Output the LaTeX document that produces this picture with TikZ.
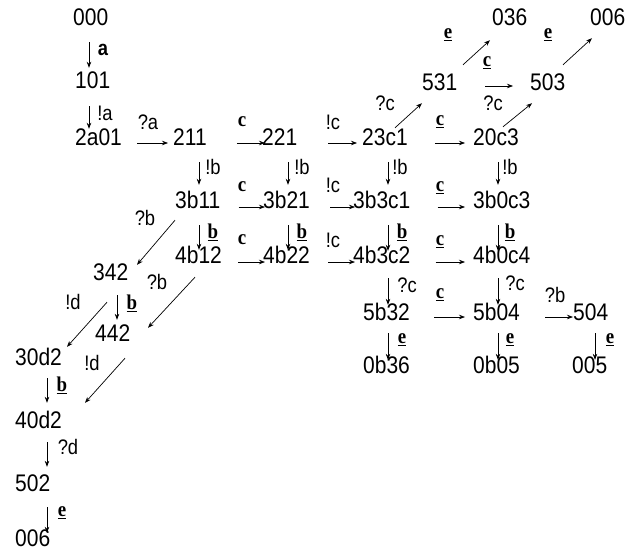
\documentclass[tikz,border=0pt]{standalone}
\usepackage{fontspec}
\setmainfont{Liberation Sans}[FakeStretch=0.875]
\newfontfamily\lblserif{Liberation Serif}[FakeStretch=0.9]
\usetikzlibrary{arrows.meta}

\begin{document}
\begin{tikzpicture}[x=1pt, y=-1pt,
  state/.style={inner sep=0pt, anchor=base west, text height=15pt,
    text depth=0pt, font=\fontsize{24}{26}\selectfont},
  lbl/.style={inner sep=0pt, font=\fontsize{21}{24}\selectfont},
  blbl/.style={inner sep=0pt, font=\fontsize{21}{24}\selectfont\lblserif\bfseries},
  move/.style={-{Stealth[length=6pt,width=4.5pt]}, line width=0.7pt},
]
  \useasboundingbox (0,0) rectangle (626,552);
  % States (left edge / baseline)
  \foreach \n/\x/\y/\t in {s000/73/25/000, s101/75/88/101, s2a01/75/145/2a01,
      s211/173/145/211, s221/262/145/221, s23c1/362/145/23c1, s20c3/473/145/20c3,
      s531/422/90/531, s503/530/90/503, s036/492/25/036, s006a/590/25/006,
      s3b11/175/208/3b11, s3b21/263/208/3b21, s3b3c1/353/208/3b3c1, s3b0c3/473/208/3b0c3,
      s4b12/175/263/4b12, s4b22/263/263/4b22, s4b3c2/353/263/4b3c2, s4b0c4/473/263/4b0c4,
      s5b32/363/320/5b32, s5b04/473/320/5b04, s504/573/320/504,
      s0b36/363/373/0b36, s0b05/473/373/0b05, s005/572/373/005,
      s342/93/280/342, s442/95/341/442, s30d2/15/365/30d2,
      s40d2/15/428/40d2, s502/15/491/502, s006b/15/546/006}{
    \node[state] (\n) at (\x,\y) {\t};
  }
  % Horizontal moves
  \draw[move, shorten <=15pt, shorten >=5pt] ([yshift=2pt]s2a01.base east) -- ([yshift=2pt]s211.base west);
  \draw[move, shorten <=30pt, shorten >=-3pt] ([yshift=2pt]s211.base east) -- ([yshift=2pt]s221.base west);
  \draw[move, shorten <=31pt, shorten >=5pt] ([yshift=2pt]s221.base east) -- ([yshift=2pt]s23c1.base west);
  \draw[move, shorten <=27pt, shorten >=8pt] ([yshift=2pt]s23c1.base east) -- ([yshift=2pt]s20c3.base west);
  \draw[move, shorten <=18pt, shorten >=-2pt] ([yshift=1pt]s3b11.base east) -- ([yshift=1pt]s3b21.base west);
  \draw[move, shorten <=20pt, shorten >=-2pt] ([yshift=1pt]s3b21.base east) -- ([yshift=1pt]s3b3c1.base west);
  \draw[move, shorten <=27pt, shorten >=8pt] ([yshift=1pt]s3b3c1.base east) -- ([yshift=1pt]s3b0c3.base west);
  \draw[move, shorten <=16pt, shorten >=-2pt] ([yshift=1pt]s4b12.base east) -- ([yshift=1pt]s4b22.base west);
  \draw[move, shorten <=18pt, shorten >=-2pt] ([yshift=1pt]s4b22.base east) -- ([yshift=1pt]s4b3c2.base west);
  \draw[move, shorten <=25pt, shorten >=8pt] ([yshift=1pt]s4b3c2.base east) -- ([yshift=1pt]s4b0c4.base west);
  \draw[move, shorten <=24pt, shorten >=8pt] ([yshift=3pt]s5b32.base east) -- ([yshift=3pt]s5b04.base west);
  \draw[move, shorten <=25pt, shorten >=0pt] ([yshift=3pt]s5b04.base east) -- ([yshift=3pt]s504.base west);
  \draw[move, shorten <=28pt, shorten >=17pt] ([yshift=4pt]s531.base east) -- ([yshift=4pt]s503.base west);
  % Vertical moves
  \draw[move, shorten <=17pt, shorten >=5pt] ([xshift=16pt]s000.south west) -- ([xshift=14pt]s101.north west);
  \draw[move, shorten <=18pt, shorten >=1pt] ([xshift=14pt]s101.south west) -- ([xshift=14pt]s2a01.north west);
  \draw[move, shorten <=17pt, shorten >=8pt] ([xshift=26pt]s211.south west) -- ([xshift=24pt]s3b11.north west);
  \draw[move, shorten <=17pt, shorten >=8pt] ([xshift=26pt]s221.south west) -- ([xshift=25pt]s3b21.north west);
  \draw[move, shorten <=17pt, shorten >=8pt] ([xshift=26pt]s23c1.south west) -- ([xshift=35pt]s3b3c1.north west);
  \draw[move, shorten <=17pt, shorten >=8pt] ([xshift=25pt]s20c3.south west) -- ([xshift=25pt]s3b0c3.north west);
  \draw[move, shorten <=17pt, shorten >=-2pt] ([xshift=24pt]s3b11.south west) -- ([xshift=24pt]s4b12.north west);
  \draw[move, shorten <=17pt, shorten >=-2pt] ([xshift=25pt]s3b21.south west) -- ([xshift=25pt]s4b22.north west);
  \draw[move, shorten <=17pt, shorten >=-3pt] ([xshift=35pt]s3b3c1.south west) -- ([xshift=35pt]s4b3c2.north west);
  \draw[move, shorten <=17pt, shorten >=-3pt] ([xshift=25pt]s3b0c3.south west) -- ([xshift=25pt]s4b0c4.north west);
  \draw[move, shorten <=15pt, shorten >=0pt] ([xshift=35pt]s4b3c2.south west) -- ([xshift=25pt]s5b32.north west);
  \draw[move, shorten <=15pt, shorten >=0pt] ([xshift=25pt]s4b0c4.south west) -- ([xshift=25pt]s5b04.north west);
  \draw[move, shorten <=13pt, shorten >=-2pt] ([xshift=25pt]s5b32.south west) -- ([xshift=25pt]s0b36.north west);
  \draw[move, shorten <=13pt, shorten >=-2pt] ([xshift=25pt]s5b04.south west) -- ([xshift=25pt]s0b05.north west);
  \draw[move, shorten <=13pt, shorten >=-2pt] ([xshift=22pt]s504.south west) -- ([xshift=23pt]s005.north west);
  \draw[move, shorten <=15pt, shorten >=6pt] ([xshift=24pt]s342.south west) -- ([xshift=22pt]s442.north west);
  \draw[move, shorten <=13pt, shorten >=10pt] ([xshift=32pt]s30d2.south west) -- ([xshift=32pt]s40d2.north west);
  \draw[move, shorten <=14pt, shorten >=9pt] ([xshift=32pt]s40d2.south west) -- ([xshift=32pt]s502.north west);
  \draw[move, shorten <=16pt, shorten >=-2pt] ([xshift=32pt]s502.south west) -- ([xshift=32pt]s006b.north west);
  % Diagonal moves
  \draw[move] ([xshift=33pt,yshift=2pt]s23c1.north west) -- ([yshift=-13pt]s531.south west);
  \draw[move] ([xshift=30pt,yshift=3pt]s20c3.north west) -- ([xshift=2pt,yshift=-13pt]s503.south west);
  \draw[move] ([xshift=41pt,yshift=10pt]s531.north west) -- ([xshift=-2pt,yshift=-15pt]s036.south west);
  \draw[move] ([xshift=33pt,yshift=10pt]s503.north west) -- ([xshift=2pt,yshift=-13pt]s006a.south west);
  \draw[move] ([yshift=-12pt]s3b11.south west) -- ([xshift=44pt]s342.north west);
  \draw[move] ([xshift=20pt,yshift=-14pt]s4b12.south west) -- ([xshift=53pt,yshift=-2pt]s442.north west);
  \draw[move] ([xshift=14pt,yshift=-22pt]s342.south west) -- ([xshift=52pt,yshift=3pt]s30d2.north west);
  \draw[move] ([xshift=30pt,yshift=-17pt]s442.south west) -- ([xshift=70pt,yshift=10pt]s40d2.north west);
  % Move labels
  \node[lbl, font=\fontsize{21}{24}\selectfont\bfseries] (la) at (103,50) {a};
  \node[lbl] (lna) at (105,113) {!a};
  \node[lbl] (lqa) at (148,122) {?a};
  \foreach \x/\y [count=\i] in {213/167, 302/167, 400/167, 510/167}
    \node[lbl] (lnb\i) at (\x,\y) {!b};
  \foreach \x/\y [count=\i] in {333/122, 333/185, 333/240}
    \node[lbl] (lnc\i) at (\x,\y) {!c};
  \foreach \x/\y [count=\i] in {385/103, 493/103, 407/285, 515/283}
    \node[lbl] (lqc\i) at (\x,\y) {?c};
  \foreach \x/\y [count=\i] in {145/218, 157/282, 555/295}
    \node[lbl] (lqb\i) at (\x,\y) {?b};
  \foreach \x/\y [count=\i] in {73/302, 92/363}
    \node[lbl] (lnd\i) at (\x,\y) {!d};
  \node[lbl] (lqd) at (68,447) {?d};
  \foreach \x/\y [count=\i] in {242/122, 242/187, 242/240}
    \node[blbl] (lc\i) at (\x,\y) {c};
  \foreach \x/\y [count=\i] in {440/122, 440/188, 440/242, 440/295, 487/63}
    \node[blbl] (luc\i) at (\x,\y) {\underline{c}};
  \foreach \x/\y [count=\i] in {213/232, 302/232, 402/232, 510/232, 132/303, 62/385}
    \node[blbl] (lub\i) at (\x,\y) {\underline{b}};
  \foreach \x/\y [count=\i] in {448/35, 548/35, 402/340, 510/340, 610/340, 62/513}
    \node[blbl] (lue\i) at (\x,\y) {\underline{e}};
\end{tikzpicture}
\end{document}
